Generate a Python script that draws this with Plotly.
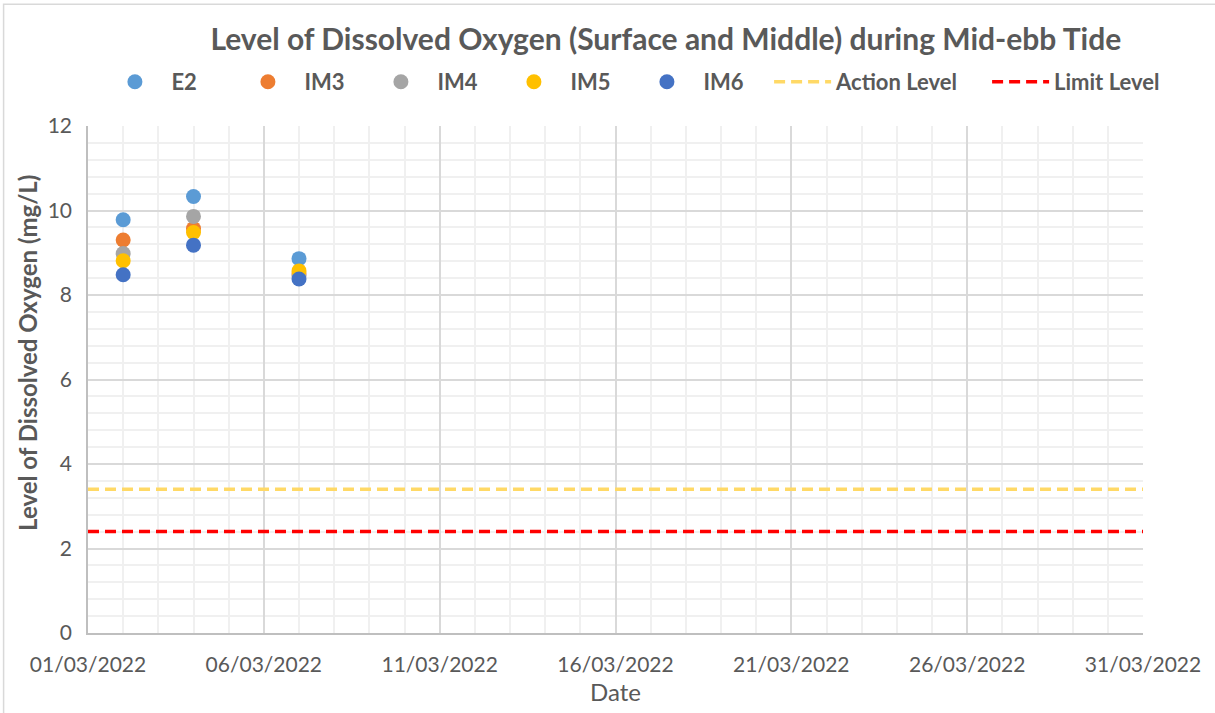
import plotly.graph_objects as go

# sampling dates and dissolved oxygen readings (mg/L)
dates = ["2022-03-02", "2022-03-04", "2022-03-07"]
e2 = [9.78, 10.33, 8.86]
im3 = [9.30, 9.57, 8.50]
im4 = [8.98, 9.86, 8.45]
im5 = [8.81, 9.48, 8.57]
im6 = [8.48, 9.18, 8.38]

# action / limit levels over the month
level_dates = ["2022-03-01", "2022-03-31"]
action_level = [3.4, 3.4]
limit_level = [2.4, 2.4]

grey = "#595959"
font = "Lato"

fig = go.Figure()

stations = [("E2", e2, "#5B9BD5"), ("IM3", im3, "#ED7D31"), ("IM4", im4, "#A5A5A5"),
            ("IM5", im5, "#FFC000"), ("IM6", im6, "#4472C4")]
for name, vals, col in stations:
    fig.add_trace(go.Scatter(x=dates, y=vals, name=name, mode="markers",
                             marker=dict(size=15, color=col), legend="legend"))

# the two level lines go in a second legend so spacing can match the original
fig.add_trace(go.Scatter(x=level_dates, y=action_level, name="Action Level", mode="lines",
                         line=dict(color="#FFD966", width=3.5, dash="11px,6px"), legend="legend2"))
fig.add_trace(go.Scatter(x=level_dates, y=limit_level, name="Limit Level", mode="lines",
                         line=dict(color="#FF0000", width=3.5, dash="11px,6px"), legend="legend2"))

legend_font = dict(size=22, color=grey, family=font, weight="bold")

fig.update_layout(
    width=1215, height=713,
    margin=dict(l=88, r=72, t=126, b=80, autoexpand=False),
    paper_bgcolor="white", plot_bgcolor="white",
    font=dict(family=font, color=grey, size=21),
    title=dict(text="<b>Level of Dissolved Oxygen (Surface and Middle) during Mid-ebb Tide</b>",
               x=0.548, xanchor="center", y=0.944, yanchor="middle",
               font=dict(size=30, color=grey, family=font)),
    legend=dict(orientation="h", xref="container", x=0.081, xanchor="left",
                yref="container", y=0.885, yanchor="middle",
                font=legend_font, itemwidth=63, entrywidth=55),
    legend2=dict(orientation="h", xref="container", x=0.633, xanchor="left",
                 yref="container", y=0.885, yanchor="middle",
                 font=legend_font, itemwidth=57, entrywidth=146),
    showlegend=True,
)

fig.update_xaxes(
    type="date", range=["2022-03-01", "2022-03-31"],
    tick0="2022-03-01", dtick=5 * 86400000, tickformat="%d/%m/%Y",
    showgrid=True, gridcolor="#D9D9D9", gridwidth=1.5,
    minor=dict(dtick=86400000, showgrid=True, gridcolor="#F0F0F0", gridwidth=1.5),
    showline=True, linecolor="#BFBFBF", linewidth=1.5,
    ticks="", tickfont=dict(size=21, color=grey), ticklabelstandoff=12,
    title=dict(text="Date", font=dict(size=24, color=grey), standoff=9),
)
fig.update_yaxes(
    range=[0, 12], dtick=2,
    showgrid=True, gridcolor="#D9D9D9", gridwidth=1.5,
    minor=dict(dtick=0.4, showgrid=True, gridcolor="#F0F0F0", gridwidth=1.5),
    showline=True, linecolor="#BFBFBF", linewidth=1.5,
    ticks="", tickfont=dict(size=21, color=grey), zeroline=False, ticklabelstandoff=10,
)

# y axis title sits a bit above the middle in the original, so use an annotation
fig.add_annotation(text="<b>Level of Dissolved Oxygen (mg/L)</b>", textangle=-90,
                   xref="paper", yref="paper", x=-0.058, y=0.552,
                   xanchor="center", yanchor="middle", showarrow=False,
                   font=dict(size=24, color=grey, family=font))

# outer chart border
fig.add_shape(type="rect", xref="paper", yref="paper", x0=-0.08, x1=1.1, y0=-0.25, y1=1.24,
              line=dict(color="#D9D9D9", width=1.5), layer="below")

fig.write_html("out.html", config={"displayModeBar": False},
               post_script="document.body.style.margin='0';")
